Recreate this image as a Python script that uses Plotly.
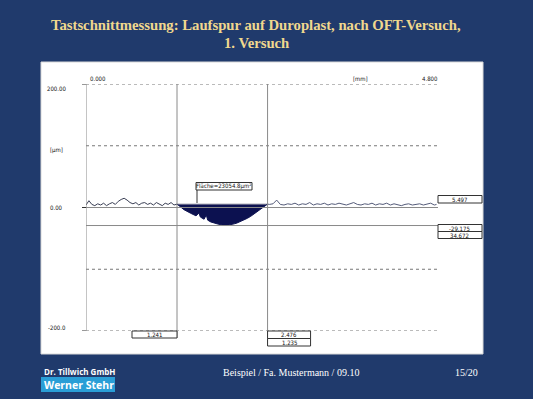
import plotly.graph_objects as go

W, H = 533, 399

# ---------------- data ----------------
x_left = [0.00, 0.04, 0.08, 0.12, 0.16, 0.20, 0.24, 0.28, 0.32, 0.36, 0.40, 0.44, 0.48,
          0.52, 0.56, 0.60, 0.64, 0.68, 0.72, 0.76, 0.80, 0.84, 0.88, 0.92, 0.96, 1.00,
          1.04, 1.08, 1.12, 1.16, 1.20, 1.241]
y_left = [4, 11, 5, 3, 6, 4, 7, 3, 6, 8, 5, 10, 13,
          15, 12, 8, 6, 8, 4, 7, 8, 5, 7, 4, 8, 6,
          3, 7, 5, 8, 4, 5.5]

x_dep = [1.241, 1.27, 1.336, 1.43, 1.50, 1.54, 1.56, 1.61, 1.64, 1.66, 1.70, 1.786,
         1.84, 1.882, 1.93, 1.973, 2.02, 2.059, 2.11, 2.155, 2.20, 2.246, 2.29, 2.332,
         2.38, 2.427, 2.476]
y_dep = [5.5, 2.4, -3.5, -9.5, -13.5, -9, -15.5, -19, -12, -20.5, -23.3, -26.4,
         -27.8, -29.2, -28.8, -28.2, -26.5, -25.1, -22.8, -20.2, -17.5, -14.3, -10.5, -7.1,
         -3.5, 0.6, 5.5]

x_right = [2.476, 2.50, 2.55, 2.60, 2.65, 2.70, 2.75, 2.80, 2.85, 2.90, 2.95, 3.00, 3.05,
           3.10, 3.15, 3.20, 3.25, 3.30, 3.35, 3.40, 3.45, 3.50, 3.55, 3.60, 3.65, 3.70,
           3.75, 3.80, 3.85, 3.90, 3.95, 4.00, 4.05, 4.10, 4.15, 4.20, 4.25, 4.30, 4.35,
           4.40, 4.45, 4.50, 4.55, 4.60, 4.65, 4.70, 4.75, 4.78]
y_right = [5.5, 5, 6, 12, 5, 4, 6, 5, 7, 4, 6, 5, 8,
           4, 6, 5, 7, 4, 6, 5, 7, 5, 4, 6, 8, 5,
           4, 6, 5, 7, 4, 6, 5, 7, 4, 6, 5, 3, 5,
           6, 4, 5, 6, 4, 5, 7, 4, 5]

ref_level = 5.497
min_level = -29.175
depth = 34.672
cut_left = 1.241
cut_right = 2.476
cut_width = 1.235
area_label = "Fläche=23054.8µm²"

x_min, x_max = 0.0, 4.8
y_min, y_max = -200.0, 200.0
y_grid = [200, 100, -100, -200]

title_lines = ["Tastschnittmessung: Laufspur auf Duroplast, nach OFT-Versuch,", "1. Versuch"]
footer_mid = "Beispiel / Fa. Mustermann / 09.10"
footer_page = "15/20"

# ---------------- helpers ----------------
def px(p):
    return p / W

def py(p):
    return 1 - p / H

BG = "#203a6c"
GOLD = "#f0d88e"
GRAY = "#8a8a8a"
DARK = "#333333"
NAVY = "#0c1150"
SMALL = dict(family="Liberation Sans Narrow, Arial Narrow, DejaVu Sans Condensed", size=6, color="#111111")

fig = go.Figure()

fig.add_trace(go.Scatter(x=x_left, y=y_left, mode="lines",
                         line=dict(color="#3a3f55", width=1), hoverinfo="skip"))
fig.add_trace(go.Scatter(x=[cut_left, cut_right], y=[ref_level, ref_level], mode="lines",
                         line=dict(color="#9a9aa8", width=1), hoverinfo="skip"))
fig.add_trace(go.Scatter(x=x_dep, y=y_dep, mode="lines", fill="tonexty", fillcolor=NAVY,
                         line=dict(color=NAVY, width=1), hoverinfo="skip"))
fig.add_trace(go.Scatter(x=x_right, y=y_right, mode="lines",
                         line=dict(color="#555c7a", width=1), hoverinfo="skip"))

shapes = []
shapes.append(dict(type="rect", xref="paper", yref="paper", x0=px(41), x1=px(483), y0=py(354), y1=py(62),
                   fillcolor="white", line=dict(color="#d8d8d8", width=1), layer="below"))

for g in y_grid:
    shapes.append(dict(type="line", xref="x", yref="y", x0=x_min, x1=x_max, y0=g, y1=g,
                       line=dict(color="#777777", width=1, dash="dot")))
for g in [200, 0, -200]:
    shapes.append(dict(type="line", xref="paper", yref="y", x0=px(82), x1=px(86), y0=g, y1=g,
                       line=dict(color=DARK, width=1)))
shapes.append(dict(type="line", xref="x", yref="y", x0=x_min, x1=x_max, y0=0, y1=0,
                   line=dict(color=GRAY, width=1)))
shapes.append(dict(type="line", xref="x", yref="y", x0=x_min, x1=x_max, y0=min_level, y1=min_level,
                   line=dict(color=GRAY, width=1)))
shapes.append(dict(type="line", xref="x", yref="y", x0=x_min, x1=x_min, y0=y_min, y1=y_max,
                   line=dict(color=GRAY, width=1)))
shapes.append(dict(type="line", xref="x", yref="paper", x0=cut_left, x1=cut_left, y0=py(338), y1=py(84),
                   line=dict(color=GRAY, width=1)))
shapes.append(dict(type="line", xref="x", yref="paper", x0=cut_right, x1=cut_right, y0=py(346), y1=py(84),
                   line=dict(color=GRAY, width=1)))

annotations = []

def box(x0, x1, y0, y1, text, xref="paper"):
    shapes.append(dict(type="rect", xref=xref, yref="paper", x0=x0, x1=x1, y0=py(y1), y1=py(y0),
                       fillcolor="white", line=dict(color=DARK, width=1)))
    annotations.append(dict(x=(x0 + x1) / 2, y=py((y0 + y1) / 2), xref=xref, yref="paper", text=text,
                            showarrow=False, font=SMALL, xanchor="center", yanchor="middle"))

box(px(438), px(482), 195.5, 203, f"{ref_level:.3f}")
box(px(438), px(482), 224.5, 231.5, f"{min_level:.3f}")
box(px(438), px(482), 231.5, 238.5, f"{depth:.3f}")

mm_per_px = (x_max - x_min) / (438 - 86)
box(cut_left - 45 * mm_per_px, cut_left, 331, 338, f"{cut_left:.3f}", xref="x")
box(cut_right, cut_right + 43 * mm_per_px, 331, 338.5, f"{cut_right:.3f}", xref="x")
box(cut_right, cut_right + 43 * mm_per_px, 338.5, 346, f"{cut_width:.3f}", xref="x")

shapes.append(dict(type="line", xref="paper", yref="paper", x0=px(197), x1=px(197), y0=py(203), y1=py(190),
                   line=dict(color=DARK, width=1)))
box(px(196), px(252), 182.5, 190, area_label)

def txt(x, y, s, anchor="left", font=SMALL):
    annotations.append(dict(x=px(x), y=py(y), xref="paper", yref="paper", text=s, showarrow=False,
                            font=font, xanchor=anchor, yanchor="middle"))

txt(88, 78, f"{x_min:.3f}")
txt(360, 78, "[mm]", "center")
txt(440, 78, f"{x_max:.3f}", "right")
txt(45, 88, f"{y_max:.2f}")
txt(48, 150, "[µm]")
txt(48, 207, "0.00")
txt(46, 327, f"{y_min:.1f}")

TF = dict(family="Liberation Serif, Times New Roman, serif", size=14.7, color=GOLD)
txt(256, 25, f"<b>{title_lines[0]}</b>", "center", TF)
txt(256, 43, f"<b>{title_lines[1]}</b>", "center", TF)

shapes.append(dict(type="rect", xref="paper", yref="paper", x0=px(41), x1=px(115), y0=py(392), y1=py(377),
                   fillcolor="#2a9ed6", line=dict(width=0)))
txt(42, 371, "<b>Dr. Tillwich GmbH</b>", "left", dict(family="Open Sans, DejaVu Sans", size=8, color="white"))
txt(42, 384.5, "<b>Werner Stehr</b>", "left", dict(family="Open Sans, DejaVu Sans", size=10.5, color="white"))
txt(291, 372, footer_mid, "center", dict(family="Liberation Serif, serif", size=10, color="white"))
txt(466, 372, footer_page, "center", dict(family="Liberation Serif, serif", size=10, color="white"))

fig.update_layout(
    width=W, height=H, margin=dict(l=0, r=0, t=0, b=0),
    paper_bgcolor=BG, plot_bgcolor="white", showlegend=False,
    xaxis=dict(range=[x_min, x_max], domain=[px(86), px(438)], visible=False, fixedrange=True),
    yaxis=dict(range=[y_min, y_max], domain=[py(331), py(84)], visible=False, fixedrange=True),
    shapes=shapes, annotations=annotations,
)

fig.write_html("out.html", config={"displayModeBar": False})
